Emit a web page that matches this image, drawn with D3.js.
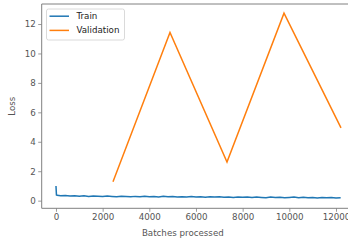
<!DOCTYPE html>
<html><head><meta charset="utf-8">
<script src="https://cdn.jsdelivr.net/npm/d3@7"></script>
<style>
html,body{margin:0;padding:0;background:#fff;overflow:hidden;}
text{font-family:"DejaVu Sans",sans-serif;}
</style></head>
<body>
<svg id="c" width="348" height="244"></svg>
<script>
const trainX = [0,20,50,200,400,600,800,1000,1200,1400,1600,1800,2000,2200,2400,2600,2800,3000,3200,3400,3600,3800,4000,4200,4400,4600,4800,5000,5200,5400,5600,5800,6000,6200,6400,6600,6800,7000,7200,7400,7600,7800,8000,8200,8400,8600,8800,9000,9200,9400,9600,9800,10000,10200,10400,10600,10800,11000,11200,11400,11600,11800,12000,12200];
const trainY = [1.0,0.38,0.36,0.33,0.35,0.31,0.34,0.30,0.33,0.29,0.32,0.30,0.28,0.31,0.29,0.27,0.30,0.28,0.26,0.29,0.27,0.30,0.26,0.28,0.25,0.29,0.26,0.28,0.24,0.27,0.25,0.28,0.24,0.26,0.23,0.27,0.24,0.26,0.23,0.25,0.22,0.24,0.23,0.25,0.21,0.24,0.22,0.20,0.24,0.21,0.23,0.19,0.22,0.24,0.20,0.23,0.19,0.22,0.18,0.21,0.19,0.22,0.18,0.20];
const valX = [2443,4886,7329,9772,12215];
const valY = [1.28,11.42,2.62,12.74,4.94];
const xTicks = [0,2000,4000,6000,8000,10000,12000];
const yTicks = [0,2,4,6,8,10,12];
const seriesNames = ["Train","Validation"];
const colors = ["#1f77b4","#ff7f0e"];

const svg = d3.select("#c");
const L=41.7, T=4, B=208.3, R=356.1;
const x = d3.scaleLinear().domain([-612,12862]).range([L,R]);
const y = d3.scaleLinear().domain([-0.52,13.36]).range([B,T]);
const grey="#555", spine="#808080";

// axes
const xa = svg.append("g").attr("transform",`translate(0,${B})`)
  .call(d3.axisBottom(x).tickValues(xTicks).tickSize(3.5).tickPadding(2.5).tickFormat(d3.format("d")));
const ya = svg.append("g").attr("transform",`translate(${L},0)`)
  .call(d3.axisLeft(y).tickValues(yTicks).tickSize(3.5).tickPadding(2.5));
[xa,ya].forEach(a=>{
  a.select(".domain").remove();
  a.selectAll("line").attr("stroke",spine).attr("stroke-width",0.8);
  a.selectAll("text").attr("fill",grey).style("font-size","8.7px").style("font-family","DejaVu Sans");
});
// spines
svg.append("line").attr("x1",L).attr("x2",L).attr("y1",T).attr("y2",B).attr("stroke",spine).attr("stroke-width",1);
svg.append("line").attr("x1",L).attr("x2",R).attr("y1",B).attr("y2",B).attr("stroke",spine).attr("stroke-width",1);
svg.append("line").attr("x1",L).attr("x2",R).attr("y1",T).attr("y2",T).attr("stroke",spine).attr("stroke-width",1);

const line = d3.line().x(d=>x(d[0])).y(d=>y(d[1]));
svg.append("path").datum(trainX.map((v,i)=>[v,trainY[i]])).attr("d",line)
  .attr("fill","none").attr("stroke",colors[0]).attr("stroke-width",1.5);
svg.append("path").datum(valX.map((v,i)=>[v,valY[i]])).attr("d",line)
  .attr("fill","none").attr("stroke",colors[1]).attr("stroke-width",1.5);

// labels
svg.append("text").attr("x",(L+336)/2-6).attr("y",236).attr("text-anchor","middle")
  .attr("fill",grey).style("font-size","8.7px").text("Batches processed");
svg.append("text").attr("transform",`translate(15,${(T+B)/2}) rotate(-90)`).attr("text-anchor","middle")
  .attr("fill",grey).style("font-size","8.7px").text("Loss");

// legend
const lg = svg.append("g");
lg.append("rect").attr("x",46.5).attr("y",9).attr("width",78).attr("height",31).attr("rx",2)
  .attr("fill","#fff").attr("fill-opacity",0.8).attr("stroke","#d0d0d0").attr("stroke-width",0.8);
seriesNames.forEach((n,i)=>{
  const yy = 16.2 + i*14.2;
  lg.append("line").attr("x1",49.5).attr("x2",69).attr("y1",yy).attr("y2",yy).attr("stroke",colors[i]).attr("stroke-width",1.5);
  lg.append("text").attr("x",76.5).attr("y",yy+3).attr("fill","#222").style("font-size","8.7px").text(n);
});
</script>
</body></html>
